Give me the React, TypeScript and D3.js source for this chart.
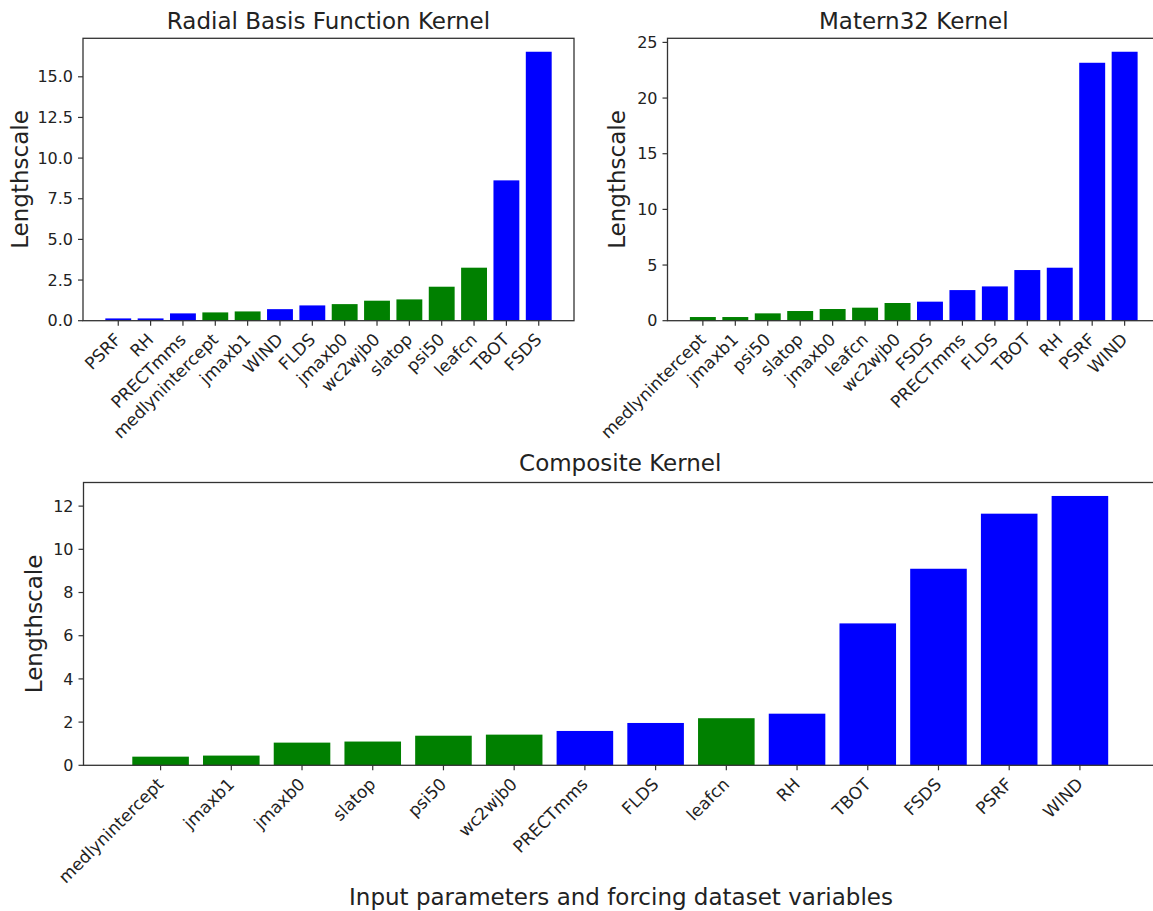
import React from "react";
import * as d3 from "d3";

const rbfCategories = ["PSRF", "RH", "PRECTmms", "medlynintercept", "jmaxb1", "WIND", "FLDS", "jmaxb0", "wc2wjb0", "slatop", "psi50", "leafcn", "TBOT", "FSDS"];
const rbfValues = [0.14, 0.14, 0.45, 0.51, 0.57, 0.71, 0.94, 1.02, 1.23, 1.31, 2.09, 3.26, 8.63, 16.54];
const rbfTicks = [0, 2.5, 5, 7.5, 10, 12.5, 15];

const maternCategories = ["medlynintercept", "jmaxb1", "psi50", "slatop", "jmaxb0", "leafcn", "wc2wjb0", "FSDS", "PRECTmms", "FLDS", "TBOT", "RH", "PSRF", "WIND"];
const maternValues = [0.33, 0.33, 0.66, 0.87, 1.05, 1.17, 1.59, 1.71, 2.75, 3.08, 4.55, 4.76, 23.17, 24.16];
const maternTicks = [0, 5, 10, 15, 20, 25];

const compositeCategories = ["medlynintercept", "jmaxb1", "jmaxb0", "slatop", "psi50", "wc2wjb0", "PRECTmms", "FLDS", "leafcn", "RH", "TBOT", "FSDS", "PSRF", "WIND"];
const compositeValues = [0.40, 0.45, 1.05, 1.10, 1.37, 1.42, 1.59, 1.96, 2.18, 2.39, 6.57, 9.10, 11.65, 12.47];
const compositeTicks = [0, 2, 4, 6, 8, 10, 12];

const forcingVariables = ["PSRF", "RH", "PRECTmms", "WIND", "FLDS", "TBOT", "FSDS"];

const FONT = "DejaVu Sans, sans-serif";
const INK = "#222";
const SPINE = "#333";

type PanelProps = {
  title: string;
  categories: string[];
  values: number[];
  ticks: number[];
  tickFormat: (v: number) => string;
  left: number;
  right: number;
  top: number;
  bottom: number;
  titleY: number;
  ylabelX: number;
};

function Panel(p: PanelProps) {
  const n = p.categories.length;
  const margin = 0.05 * (n - 1 + 0.8);
  const x = d3.scaleLinear().domain([-0.4 - margin, n - 1 + 0.4 + margin]).range([p.left, p.right]);
  const ymax = (d3.max(p.values) as number) * 1.05;
  const y = d3.scaleLinear().domain([0, ymax]).range([p.bottom, p.top]);
  const bw = x(0.8) - x(0);
  return (
    <g>
      <text x={(p.left + p.right) / 2} y={p.titleY} textAnchor="middle" fontFamily={FONT} fontSize={23} fill={INK}>
        {p.title}
      </text>
      {p.categories.map((c, i) => (
        <rect
          key={c}
          x={x(i) - bw / 2}
          y={y(p.values[i])}
          width={bw}
          height={y(0) - y(p.values[i])}
          fill={forcingVariables.includes(c) ? "#0000ff" : "#008000"}
        />
      ))}
      <rect x={p.left} y={p.top} width={p.right - p.left} height={p.bottom - p.top} fill="none" stroke={SPINE} strokeWidth={1.3} />
      {p.ticks.map((t) => (
        <g key={t}>
          <line x1={p.left - 5} x2={p.left} y1={y(t)} y2={y(t)} stroke={SPINE} strokeWidth={1.2} />
          <text x={p.left - 10} y={y(t)} dy="0.35em" textAnchor="end" fontFamily={FONT} fontSize={16} fill={INK}>
            {p.tickFormat(t)}
          </text>
        </g>
      ))}
      {p.categories.map((c, i) => (
        <g key={"t" + c}>
          <line x1={x(i)} x2={x(i)} y1={p.bottom} y2={p.bottom + 5} stroke={SPINE} strokeWidth={1.2} />
          <text
            transform={`translate(${x(i) + 4},${p.bottom + 20}) rotate(-45)`}
            textAnchor="end"
            fontFamily={FONT}
            fontSize={17}
            fill={INK}
          >
            {c}
          </text>
        </g>
      ))}
      <text
        transform={`translate(${p.ylabelX},${(p.top + p.bottom) / 2}) rotate(-90)`}
        textAnchor="middle"
        fontFamily={FONT}
        fontSize={23}
        fill={INK}
      >
        Lengthscale
      </text>
    </g>
  );
}

export default function App() {
  return (
    <div style={{ position: "absolute", left: 0, top: 0 }}>
      <svg width={1153} height={911} style={{ display: "block", background: "#fff" }}>
        <rect x={0} y={0} width={1153} height={911} fill="#fff" />
        <Panel
          title="Radial Basis Function Kernel"
          categories={rbfCategories}
          values={rbfValues}
          ticks={rbfTicks}
          tickFormat={d3.format(".1f")}
          left={83}
          right={574}
          top={38.3}
          bottom={320.7}
          titleY={29}
          ylabelX={28}
        />
        <Panel
          title="Matern32 Kernel"
          categories={maternCategories}
          values={maternValues}
          ticks={maternTicks}
          tickFormat={d3.format("d")}
          left={667.5}
          right={1160}
          top={38.3}
          bottom={320.7}
          titleY={29}
          ylabelX={625}
        />
        <Panel
          title="Composite Kernel"
          categories={compositeCategories}
          values={compositeValues}
          ticks={compositeTicks}
          tickFormat={d3.format("d")}
          left={83.5}
          right={1157}
          top={482.5}
          bottom={765.3}
          titleY={471}
          ylabelX={42}
        />
        <text x={621} y={905} textAnchor="middle" fontFamily={FONT} fontSize={23} fill={INK}>
          Input parameters and forcing dataset variables
        </text>
      </svg>
    </div>
  );
}
